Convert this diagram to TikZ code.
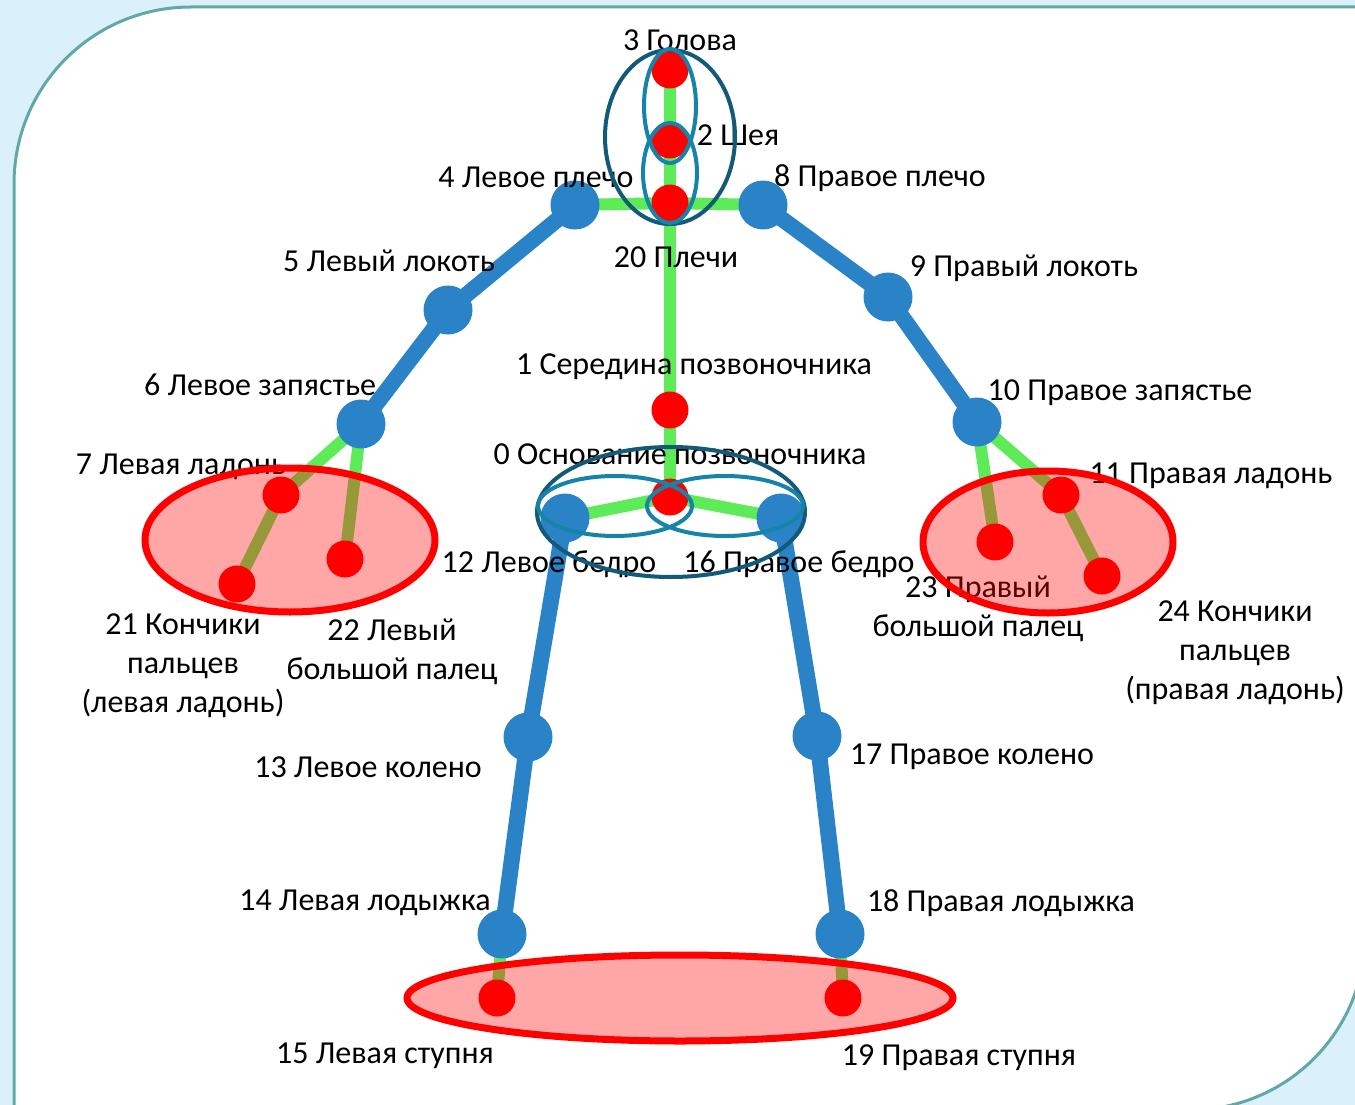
\documentclass[tikz,border=0pt]{standalone}
\usepackage{fontspec}
\setmainfont{Carlito}
\definecolor{bgblue}{HTML}{DAF0FA}
\definecolor{panelline}{HTML}{62A8A6}
\definecolor{limbgreen}{HTML}{5EEB58}
\definecolor{limbblue}{HTML}{2A83C7}
\definecolor{darkring}{HTML}{125A78}
\definecolor{lightring}{HTML}{1684A8}
\tikzset{
  greenbone/.style={draw=limbgreen, line width=12pt},
  bluebone/.style={draw=limbblue, line width=16pt},
  redjoint/.style={circle, fill=red, inner sep=0pt, minimum size=37pt},
  bluejoint/.style={circle, fill=limbblue, inner sep=0pt, minimum size=49pt},
  lbl/.style={font=\fontsize{32}{39}\selectfont, inner sep=0pt, align=center, text=black},
  darkloop/.style={draw=darkring, line width=4pt},
  lightloop/.style={draw=lightring, line width=4pt},
  handloop/.style={draw=red, line width=7pt, fill=red, fill opacity=0.35, draw opacity=1},
}
\begin{document}
\begin{tikzpicture}[x=1pt,y=-1pt]
\useasboundingbox (0,0) rectangle (1355,1105);
\fill[bgblue] (0,0) rectangle (1355,1105);
% panel
\draw[fill=white, draw=panelline, line width=3pt]
  (14,1120) -- (14,184) .. controls (14,86) and (93,7) .. (191,7)
  -- (1375,7) -- (1365,7) -- (1365,935) .. controls (1365,1031.7) and (1286.7,1110) .. (1190,1110)
  -- (14,1110) -- cycle;

% joint positions
\coordinate (p0) at (670,497);
\coordinate (p1) at (670,410);
\coordinate (p2) at (670,140);
\coordinate (p3) at (670,70);
\coordinate (p4) at (575,205);
\coordinate (p5) at (448,310);
\coordinate (p6) at (361,424);
\coordinate (p7) at (281,495);
\coordinate (p8) at (763,205);
\coordinate (p9) at (888,297);
\coordinate (p10) at (977,422);
\coordinate (p11) at (1061,495);
\coordinate (p12) at (565,518);
\coordinate (p13) at (528,737);
\coordinate (p14) at (502,934);
\coordinate (p15) at (497,998);
\coordinate (p16) at (781,518);
\coordinate (p17) at (817,736);
\coordinate (p18) at (840,934);
\coordinate (p19) at (843,998);
\coordinate (p20) at (670,203);
\coordinate (p21) at (237,584);
\coordinate (p22) at (345,559);
\coordinate (p23) at (995,542);
\coordinate (p24) at (1102,576);

% green bones
\draw[greenbone] (p3) -- (p2) -- (p20) -- (p1) -- (p0);
\draw[greenbone] (p4) -- (p20) -- (p8);
\draw[greenbone] (p12) -- (p0) -- (p16);
\draw[greenbone] (p6) -- (p7) -- (p21);
\draw[greenbone] (p6) -- (p22);
\draw[greenbone] (p10) -- (p11) -- (p24);
\draw[greenbone] (p10) -- (p23);
\draw[greenbone] (p14) -- (p15);
\draw[greenbone] (p18) -- (p19);

% blue bones
\draw[bluebone] (p4) -- (p5) -- (p6);
\draw[bluebone] (p8) -- (p9) -- (p10);
\draw[bluebone] (p12) -- (p13) -- (p14);
\draw[bluebone] (p16) -- (p17) -- (p18);

% joints
\node[bluejoint] (j4) at (p4) {};
\node[bluejoint] (j5) at (p5) {};
\node[bluejoint] (j6) at (p6) {};
\node[bluejoint] (j8) at (p8) {};
\node[bluejoint] (j9) at (p9) {};
\node[bluejoint] (j10) at (p10) {};
\node[bluejoint] (j12) at (p12) {};
\node[bluejoint] (j13) at (p13) {};
\node[bluejoint] (j14) at (p14) {};
\node[bluejoint] (j16) at (p16) {};
\node[bluejoint] (j17) at (p17) {};
\node[bluejoint] (j18) at (p18) {};
\node[redjoint] (j0) at (p0) {};
\node[redjoint] (j1) at (p1) {};
\node[redjoint] (j2) at (p2) {};
\node[redjoint] (j3) at (p3) {};
\node[redjoint] (j20) at (p20) {};
\node[redjoint] (j7) at (p7) {};
\node[redjoint] (j21) at (p21) {};
\node[redjoint] (j22) at (p22) {};
\node[redjoint] (j11) at (p11) {};
\node[redjoint] (j23) at (p23) {};
\node[redjoint] (j24) at (p24) {};
\node[redjoint] (j15) at (p15) {};
\node[redjoint] (j19) at (p19) {};

% labels
\node[lbl] (l3) at (680,40) {3 Голова};
\node[lbl] (l2) at (738,135) {2 Шея};
\node[lbl] (l4) at (536,177) {4 Левое плечо};
\node[lbl] (l8) at (880,178) {8 Правое плечо};
\node[lbl] (l20) at (676,257) {20 Плечи};
\node[lbl] (l5) at (389,261) {5 Левый локоть};
\node[lbl] (l9) at (1024,268) {9 Правый локоть};
\node[lbl] (l1) at (694,367) {1 Середина позвоночника};
\node[lbl] (l6) at (260,385) {6 Левое запястье};
\node[lbl] (l10) at (1120,393) {10 Правое запястье};
\node[lbl] (l0) at (680,454) {0 Основание позвоночника};
\node[lbl] (l7) at (181,467) {7 Левая ладонь};
\node[lbl] (l11) at (1211,476) {11 Правая ладонь};
\node[lbl] (l12) at (549,564) {12 Левое бедро};
\node[lbl] (l16) at (799,564) {16 Правое бедро};
\node[lbl] (l21) at (183,666) {21 Кончики\\пальцев\\(левая ладонь)};
\node[lbl] (l22) at (392,652) {22 Левый\\большой палец};
\node[lbl] (l23) at (978,609) {23 Правый\\большой палец};
\node[lbl] (l24) at (1235,653) {24 Кончики\\пальцев\\(правая ладонь)};
\node[lbl] (l13) at (368,767) {13 Левое колено};
\node[lbl] (l17) at (972,757) {17 Правое колено};
\node[lbl] (l14) at (365,903) {14 Левая лодыжка};
\node[lbl] (l18) at (1001,903) {18 Правая лодыжка};
\node[lbl] (l15) at (385,1056) {15 Левая ступня};
\node[lbl] (l19) at (959,1058) {19 Правая ступня};

% loops
\draw[darkloop] (670,137) ellipse [x radius=65pt, y radius=87pt];
\draw[lightloop] (670,106) ellipse [x radius=26pt, y radius=57pt];
\draw[lightloop] (670,173) ellipse [x radius=27pt, y radius=50pt];
\draw[darkloop] (671,512) ellipse [x radius=134pt, y radius=65pt];
\draw[lightloop] (615,506) ellipse [x radius=77pt, y radius=30pt];
\draw[lightloop] (725,506) ellipse [x radius=78pt, y radius=30pt];
\draw[handloop] (290,540) ellipse [x radius=145pt, y radius=72pt];
\draw[handloop] (1048,542) ellipse [x radius=125pt, y radius=71pt];
\draw[handloop] (680,998) ellipse [x radius=273pt, y radius=43pt];
\end{tikzpicture}
\end{document}
